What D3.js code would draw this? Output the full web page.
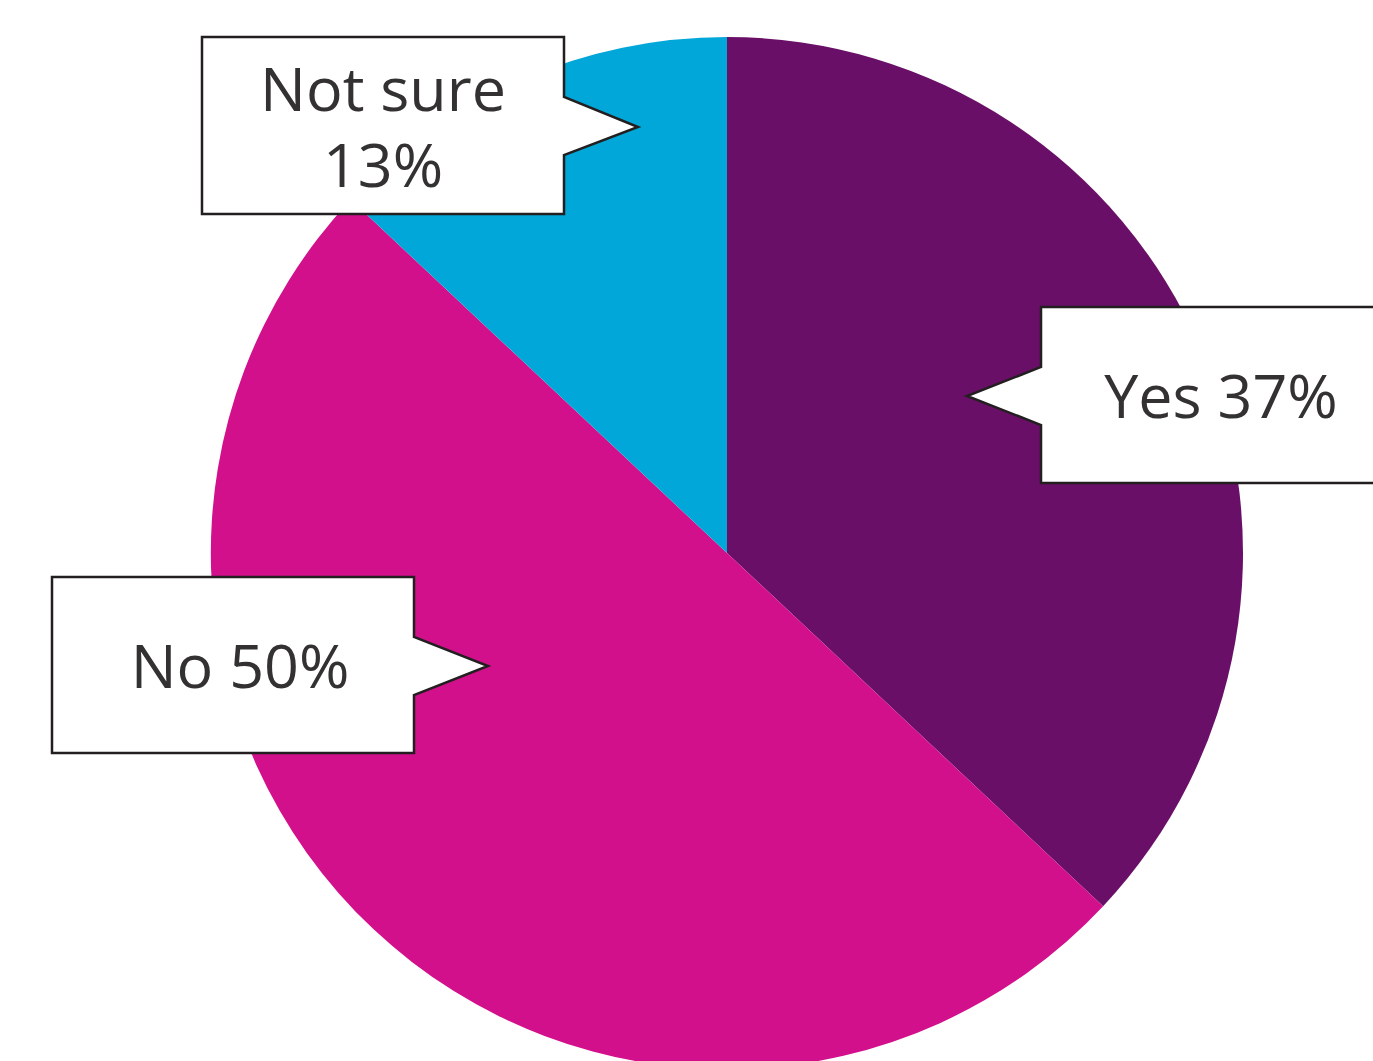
<!DOCTYPE html>
<html>
<head>
<meta charset="utf-8">
<script src="https://cdn.jsdelivr.net/npm/d3@7"></script>
<style>
  body { margin: 0; background: #fff; }
  svg { display: block; }
</style>
</head>
<body>
<svg id="chart"></svg>
<script>
// answers and their shares (percent)
const labels = ['Yes', 'No', 'Not sure'];
const values = [37, 50, 13];
const colors = ['#6a0f67', '#d3108c', '#00a7d8'];

const width = 1373, height = 1061;
const cx = 727, cy = 553, radius = 516;

const svg = d3.select('#chart')
  .attr('width', width)
  .attr('height', height);

const pie = d3.pie().sort(null).value(d => d);
const arc = d3.arc().innerRadius(0).outerRadius(radius);

const g = svg.append('g')
  .attr('transform', `translate(${cx}, ${cy})`);

g.selectAll('path')
  .data(pie(values))
  .enter()
  .append('path')
  .attr('d', arc)
  .attr('fill', (d, i) => colors[i]);

// callout boxes: box rect + which side the pointer sits + pointer tip
const callouts = [
  { x: 1041, y: 307, w: 360, h: 176, side: 'left', py0: 367, py1: 425, tipX: 967, tipY: 396 },
  { x: 52, y: 577, w: 362, h: 176, side: 'right', py0: 637, py1: 695, tipX: 488, tipY: 666 },
  { x: 202, y: 37, w: 362, h: 177, side: 'right', py0: 97, py1: 155, tipX: 638, tipY: 127 }
];

function calloutPath(c) {
  const x0 = c.x, y0 = c.y, x1 = c.x + c.w, y1 = c.y + c.h;
  if (c.side === 'right') {
    return `M${x0},${y0}L${x1},${y0}L${x1},${c.py0}L${c.tipX},${c.tipY}L${x1},${c.py1}L${x1},${y1}L${x0},${y1}Z`;
  }
  return `M${x0},${y0}L${x1},${y0}L${x1},${y1}L${x0},${y1}L${x0},${c.py1}L${c.tipX},${c.tipY}L${x0},${c.py0}Z`;
}

const lines = [
  [`${labels[0]} ${values[0]}%`],
  [`${labels[1]} ${values[1]}%`],
  [labels[2], `${values[2]}%`]
];

const boxes = svg.selectAll('g.callout')
  .data(callouts)
  .enter()
  .append('g')
  .attr('class', 'callout');

boxes.append('path')
  .attr('d', calloutPath)
  .attr('fill', '#fff')
  .attr('stroke', '#231f20')
  .attr('stroke-width', 2.5)
  .attr('stroke-linejoin', 'miter');

// text positions (centre x, first baseline)
const textPos = [
  { x: 1221, y: 418 },
  { x: 240, y: 688 },
  { x: 383, y: 111 }
];

boxes.each(function(c, i) {
  const t = d3.select(this).append('text')
    .attr('text-anchor', 'middle')
    .style('font-family', '"Open Sans", "Noto Sans", sans-serif')
    .style('font-size', '61px')
    .style('fill', '#333132');
  lines[i].forEach((s, j) => {
    t.append('tspan')
      .attr('x', textPos[i].x)
      .attr('y', textPos[i].y + j * 76)
      .text(s);
  });
});
</script>
</body>
</html>
